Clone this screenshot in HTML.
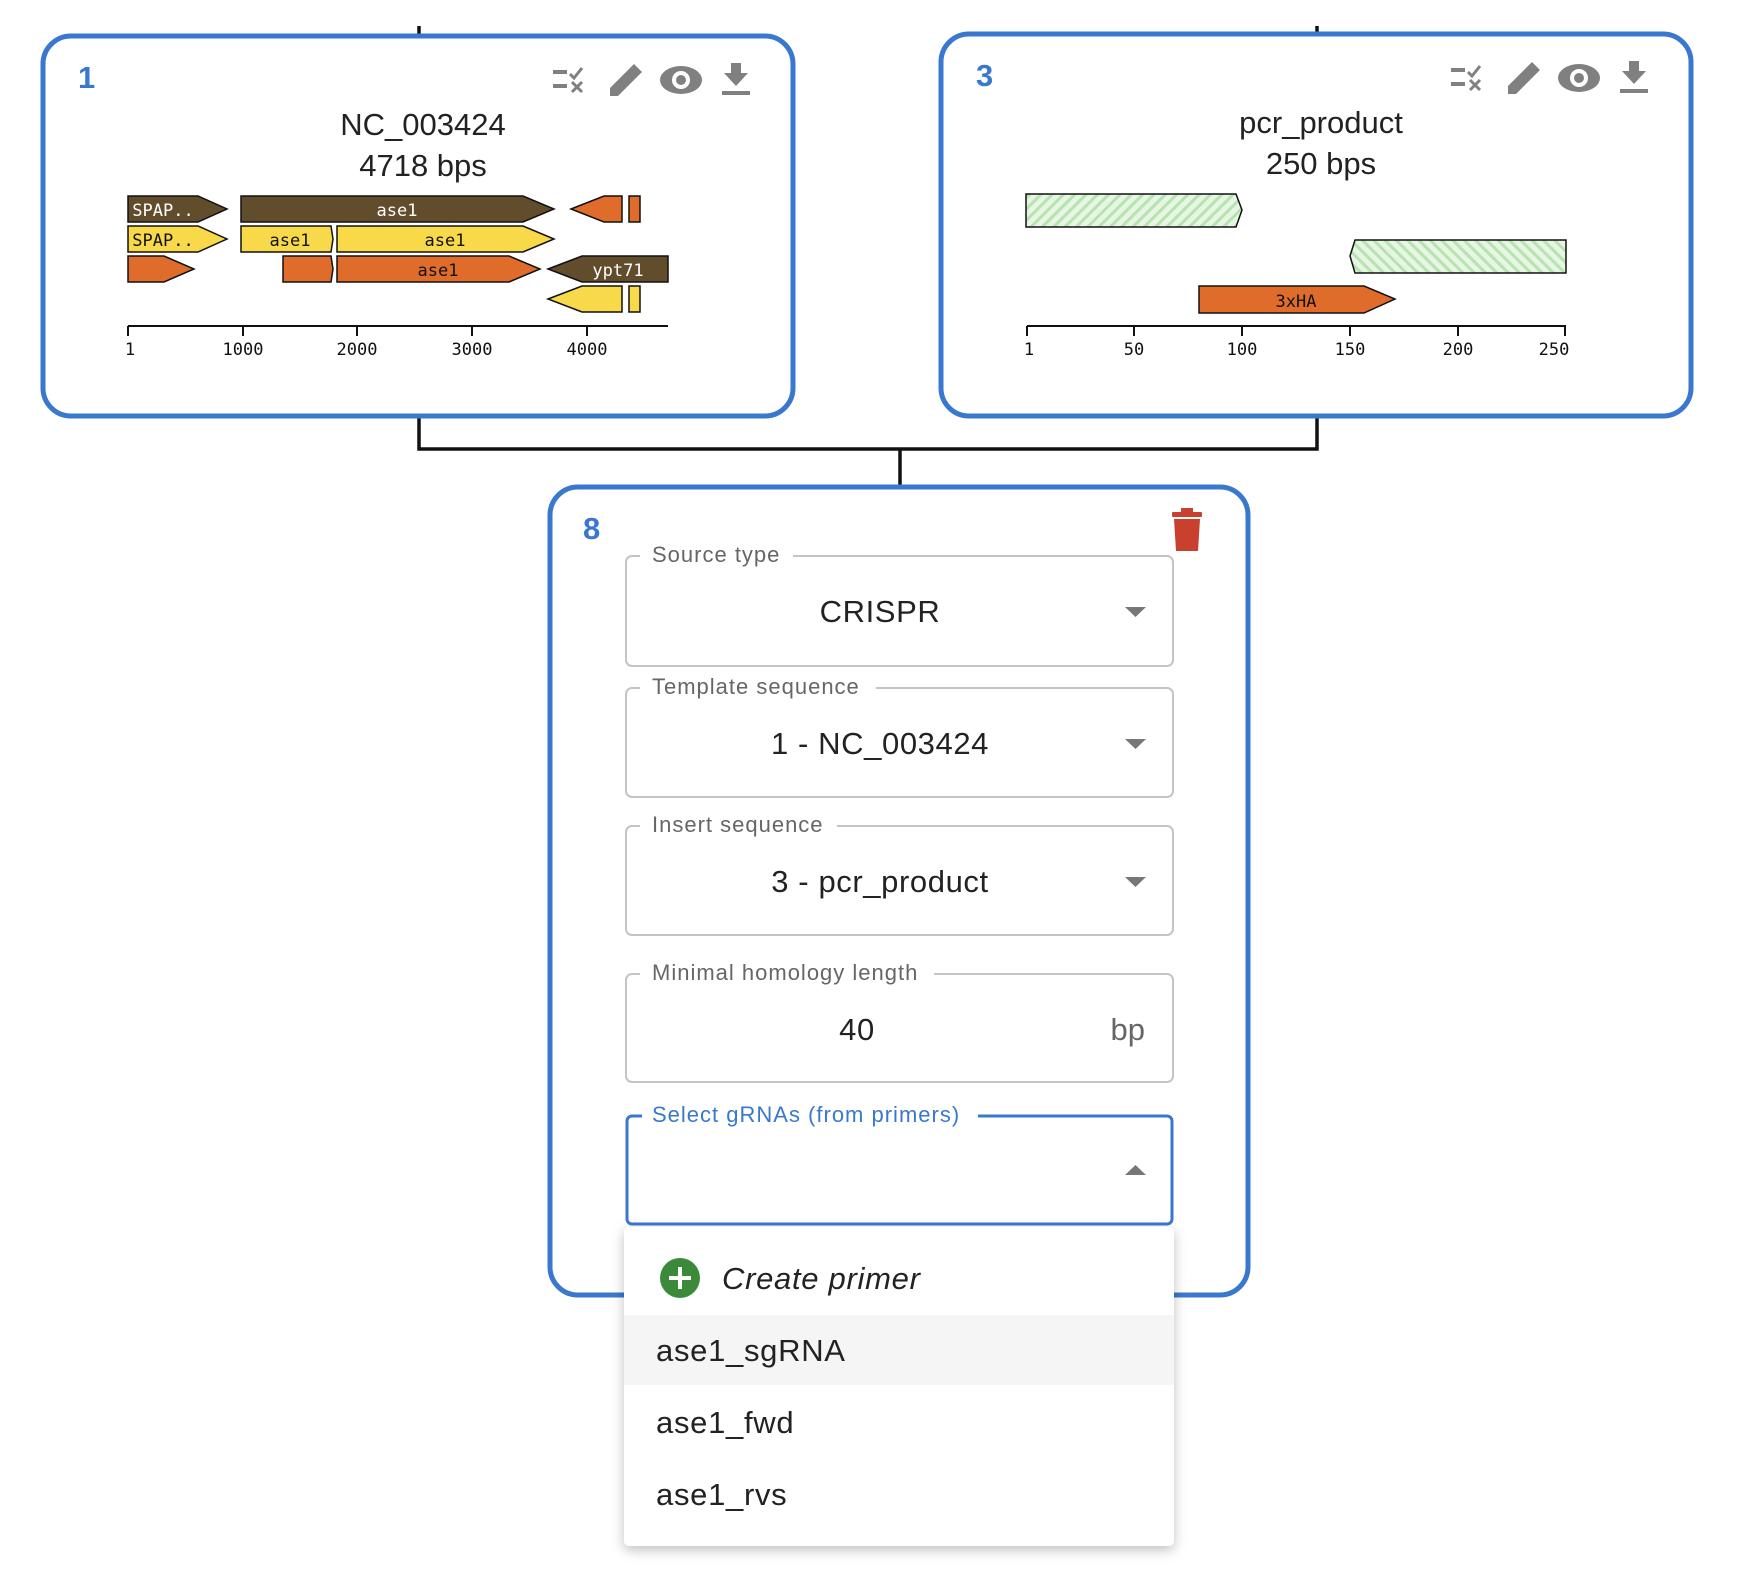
<!DOCTYPE html>
<html><head><meta charset="utf-8"><style>
html,body{margin:0;padding:0;background:#fff;}
svg{display:block;font-family:"Liberation Sans",Arial,sans-serif;}
.mono{font-family:"DejaVu Sans Mono","Liberation Mono",monospace;font-size:17px;}
</style></head><body>
<svg width="1746" height="1572" viewBox="0 0 1746 1572" xmlns="http://www.w3.org/2000/svg">
<defs>
<pattern id="hatch" width="8" height="8" patternUnits="userSpaceOnUse" patternTransform="rotate(45)">
<rect width="8" height="8" fill="#e6f6e2"/><rect width="3" height="8" fill="#b7e3b0"/></pattern>
<pattern id="hatch2" width="8" height="8" patternUnits="userSpaceOnUse" patternTransform="rotate(-45)">
<rect width="8" height="8" fill="#e6f6e2"/><rect width="3" height="8" fill="#b7e3b0"/></pattern>
<filter id="sh" x="-10%" y="-10%" width="120%" height="130%"><feDropShadow dx="0" dy="4" stdDeviation="6" flood-color="#000" flood-opacity="0.25"/></filter>
</defs>
<g stroke="#111" stroke-width="3.5" fill="none">
<line x1="419" y1="26" x2="419" y2="36"/>
<line x1="1317" y1="26" x2="1317" y2="34"/>
<polyline points="419,416 419,449 1317,449 1317,416"/>
<line x1="900" y1="449" x2="900" y2="488"/>
</g>
<rect x="43" y="36" width="750" height="380" rx="28" fill="#fff" stroke="#3a78d0" stroke-width="5"/>
<text x="78" y="88" font-size="31" font-weight="bold" fill="#3a78d0">1</text>
<g id="icons1" fill="#808080">
<rect x="553" y="70" width="14" height="4"/><rect x="553" y="84" width="14" height="4"/>
<path d="M570 74 l4 4 l8 -10" stroke="#808080" stroke-width="3" fill="none"/>
<path d="M572 82 l10 10 M582 82 l-10 10" stroke="#808080" stroke-width="3"/>
<path d="M610 96 l0 -8 l24 -24 l8 8 l-24 24 z"/>
<ellipse cx="681" cy="80" rx="21" ry="14"/><circle cx="681" cy="80" r="9" fill="#fff"/><circle cx="681" cy="80" r="5"/>
<path d="M731 63 h10 v10 h7 l-12 13 l-12 -13 h7 z"/><rect x="722" y="91" width="28" height="4"/>
</g>
<text x="423" y="135" font-size="31" fill="#222" text-anchor="middle">NC_003424</text>
<text x="423" y="176" font-size="31" fill="#222" text-anchor="middle">4718 bps</text>
<g stroke="#111" stroke-width="1.5">
<polygon points="128,196 198,196 227,209 198,222 128,222" fill="#614c2c"/>
<polygon points="241,196 523,196 554,209 523,222 241,222" fill="#614c2c"/>
<polygon points="571,209 604,196 622,196 622,222 604,222" fill="#e06c2b"/>
<rect x="629" y="196" width="11" height="26" fill="#e06c2b"/>
<polygon points="128,226 198,226 227,239 198,252 128,252" fill="#f7d94a"/>
<polygon points="241,226 331,226 333,239 331,252 241,252" fill="#f7d94a"/>
<polygon points="337,226 523,226 554,239 523,252 337,252" fill="#f7d94a"/>
<polygon points="128,256 164,256 194,269 164,282 128,282" fill="#e06c2b"/>
<polygon points="283,256 331,256 333,269 331,282 283,282" fill="#e06c2b"/>
<polygon points="337,256 509,256 540,269 509,282 337,282" fill="#e06c2b"/>
<polygon points="548,269 582,256 668,256 668,282 582,282" fill="#614c2c"/>
<polygon points="548,299 582,286 622,286 622,312 582,312" fill="#f7d94a"/>
<rect x="629" y="286" width="11" height="26" fill="#f7d94a"/>
</g>
<g class="mono" text-anchor="middle">
<text x="163" y="216" fill="#fff">SPAP..</text>
<text x="397" y="216" fill="#fff">ase1</text>
<text x="163" y="246" fill="#111">SPAP..</text>
<text x="290" y="246" fill="#111">ase1</text>
<text x="445" y="246" fill="#111">ase1</text>
<text x="438" y="276" fill="#111">ase1</text>
<text x="618" y="276" fill="#fff">ypt71</text>
</g>
<g stroke="#111" stroke-width="2">
<line x1="128" y1="326" x2="668" y2="326"/>
<line x1="128" y1="326" x2="128" y2="336"/><line x1="243" y1="326" x2="243" y2="336"/>
<line x1="357" y1="326" x2="357" y2="336"/><line x1="472" y1="326" x2="472" y2="336"/>
<line x1="587" y1="326" x2="587" y2="336"/>
</g>
<g class="mono" fill="#111" text-anchor="middle">
<text x="130" y="355">1</text><text x="243" y="355">1000</text><text x="357" y="355">2000</text><text x="472" y="355">3000</text><text x="587" y="355">4000</text>
</g>
<rect x="941" y="34" width="750" height="382" rx="28" fill="#fff" stroke="#3a78d0" stroke-width="5"/>
<text x="976" y="86" font-size="31" font-weight="bold" fill="#3a78d0">3</text>
<use href="#icons1" transform="translate(898,-2)"/>
<text x="1321" y="133" font-size="31" fill="#222" text-anchor="middle">pcr_product</text>
<text x="1321" y="174" font-size="31" fill="#222" text-anchor="middle">250 bps</text>
<g stroke="#111" stroke-width="1.5">
<polygon points="1026,194 1236,194 1242,210 1236,227 1026,227" fill="url(#hatch)"/>
<polygon points="1355,240 1566,240 1566,273 1355,273 1350,256" fill="url(#hatch2)"/>
<polygon points="1199,286 1364,286 1395,299 1364,313 1199,313" fill="#e06c2b"/>
</g>
<text x="1296" y="307" class="mono" fill="#111" text-anchor="middle">3xHA</text>
<g stroke="#111" stroke-width="2">
<line x1="1027" y1="326" x2="1566" y2="326"/>
<line x1="1027" y1="326" x2="1027" y2="336"/><line x1="1134" y1="326" x2="1134" y2="336"/>
<line x1="1242" y1="326" x2="1242" y2="336"/><line x1="1350" y1="326" x2="1350" y2="336"/>
<line x1="1458" y1="326" x2="1458" y2="336"/><line x1="1565" y1="326" x2="1565" y2="336"/>
</g>
<g class="mono" fill="#111" text-anchor="middle">
<text x="1029" y="355">1</text><text x="1134" y="355">50</text><text x="1242" y="355">100</text><text x="1350" y="355">150</text><text x="1458" y="355">200</text><text x="1554" y="355">250</text>
</g>
<rect x="550" y="487" width="698" height="808" rx="28" fill="#fff" stroke="#3a78d0" stroke-width="5"/>
<text x="583" y="539" font-size="31" font-weight="bold" fill="#3a78d0">8</text>
<g fill="#c9402f"><rect x="1172" y="512" width="30" height="5" rx="1"/><rect x="1181" y="508" width="12" height="5"/><path d="M1174 519 h26 l-2 32 h-22 z"/></g>
<g fill="none" stroke="#c4c4c4" stroke-width="2">
<path d="M640 556 h-8 a6 6 0 0 0 -6 6 v98 a6 6 0 0 0 6 6 h535 a6 6 0 0 0 6 -6 v-98 a6 6 0 0 0 -6 -6 h-374"/>
<path d="M640 688 h-8 a6 6 0 0 0 -6 6 v97 a6 6 0 0 0 6 6 h535 a6 6 0 0 0 6 -6 v-97 a6 6 0 0 0 -6 -6 h-291"/>
<path d="M640 826 h-8 a6 6 0 0 0 -6 6 v97 a6 6 0 0 0 6 6 h535 a6 6 0 0 0 6 -6 v-97 a6 6 0 0 0 -6 -6 h-330"/>
<path d="M640 974 h-8 a6 6 0 0 0 -6 6 v96 a6 6 0 0 0 6 6 h535 a6 6 0 0 0 6 -6 v-96 a6 6 0 0 0 -6 -6 h-233"/>
</g>
<path d="M642 1116 h-10 a5 5 0 0 0 -5 5 v98 a5 5 0 0 0 5 5 h535 a5 5 0 0 0 5 -5 v-98 a5 5 0 0 0 -5 -5 h-189" fill="none" stroke="#3a78d0" stroke-width="3"/>
<g font-size="22" fill="#666" letter-spacing="1">
<text x="652" y="562">Source type</text>
<text x="652" y="694">Template sequence</text>
<text x="652" y="832">Insert sequence</text>
<text x="652" y="980">Minimal homology length</text>
</g>
<text x="652" y="1122" font-size="22" fill="#3a78d0" letter-spacing="1">Select gRNAs (from primers)</text>
<g font-size="31" fill="#222" text-anchor="middle" letter-spacing="0.6">
<text x="880" y="622">CRISPR</text>
<text x="880" y="754">1 - NC_003424</text>
<text x="880" y="892">3 - pcr_product</text>
<text x="857" y="1040">40</text>
</g>
<text x="1145" y="1040" font-size="31" fill="#666" text-anchor="end">bp</text>
<g fill="#777">
<polygon points="1125,607 1146,607 1135.5,617"/>
<polygon points="1125,739 1146,739 1135.5,749"/>
<polygon points="1125,877 1146,877 1135.5,887"/>
<polygon points="1125,1175 1146,1175 1135.5,1165"/>
</g>
<rect x="624" y="1227" width="550" height="319" rx="5" fill="#fff" filter="url(#sh)"/>
<rect x="624" y="1315" width="550" height="70" fill="#f5f5f5"/>
<circle cx="680" cy="1278" r="20" fill="#3b8a3a"/>
<path d="M680 1267 v22 M669 1278 h22" stroke="#fff" stroke-width="4"/>
<text x="722" y="1289" font-size="31" font-style="italic" fill="#222" letter-spacing="0.7">Create primer</text>
<g font-size="31" fill="#222" letter-spacing="0.7">
<text x="656" y="1361">ase1_sgRNA</text>
<text x="656" y="1433">ase1_fwd</text>
<text x="656" y="1505">ase1_rvs</text>
</g>
</svg>
</body></html>
